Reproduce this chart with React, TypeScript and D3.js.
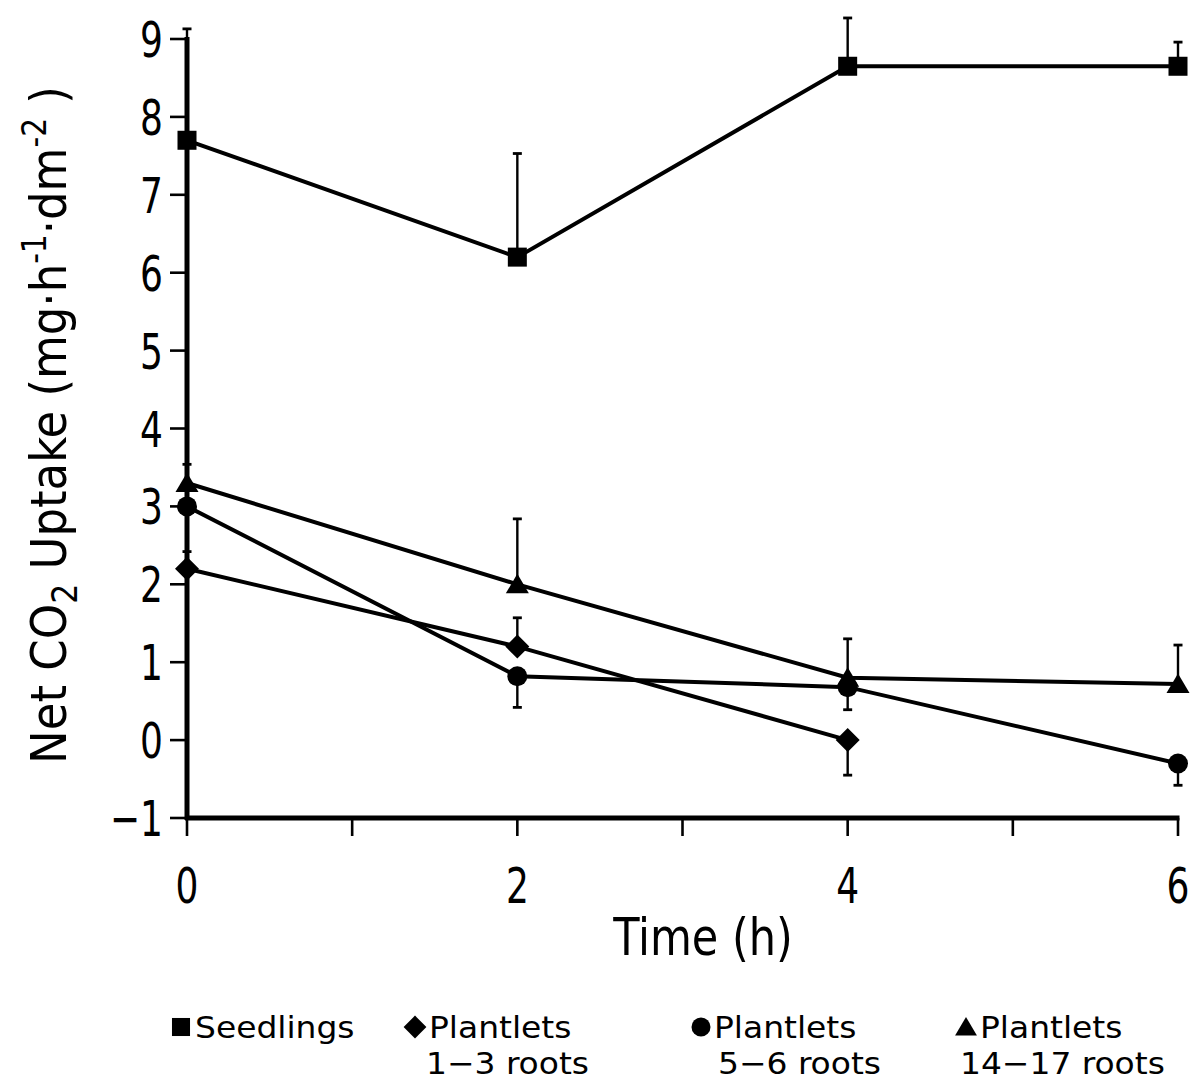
import React from "react";
import * as d3 from "d3";

const times = [0, 2, 4, 6];
const seedlings = [7.7, 6.2, 8.65, 8.65];
const seedlingsErrEnd = [9.13, 7.53, 9.27, 8.96];
const plant13 = [2.2, 1.2, 0.0];
const plant13ErrEnd = [2.42, 1.57, -0.45];
const plant56 = [3.0, 0.82, 0.68, -0.3];
const plant56ErrEnd = [3.0, 0.42, 0.39, -0.58];
const plant1417 = [3.3, 2.0, 0.8, 0.72];
const plant1417ErrEnd = [3.54, 2.84, 1.3, 1.22];
const yTicks = [-1, 0, 1, 2, 3, 4, 5, 6, 7, 8, 9];
const xTicks = [0, 1, 2, 3, 4, 5, 6];
const xTickLabels = [0, 2, 4, 6];

const FONT = "'DejaVu Sans Condensed', 'Liberation Sans Narrow', 'DejaVu Sans', sans-serif";

type Shape = "square" | "diamond" | "circle" | "triangle";

function Marker({ shape, x, y, s = 1 }: { shape: Shape; x: number; y: number; s?: number }) {
  if (shape === "square") {
    const h = 9.5 * s;
    return <rect x={x - h} y={y - h} width={2 * h} height={2 * h} fill="#000" />;
  }
  if (shape === "diamond") {
    const h = 12 * s;
    return <path d={`M${x},${y - h}L${x + h},${y}L${x},${y + h}L${x - h},${y}Z`} fill="#000" />;
  }
  if (shape === "circle") {
    return <circle cx={x} cy={y} r={10 * s} fill="#000" />;
  }
  const h = 11.5 * s;
  return <path d={`M${x},${y - 10.5 * s}L${x + h},${y + 9 * s}L${x - h},${y + 9 * s}Z`} fill="#000" />;
}

function NText({
  x,
  y,
  sx = 1,
  anchor = "start",
  size,
  children,
}: {
  x: number;
  y: number;
  sx?: number;
  anchor?: string;
  size: number;
  children: React.ReactNode;
}) {
  return (
    <text transform={`translate(${x},${y}) scale(${sx},1)`} textAnchor={anchor} fontSize={size}>
      {children}
    </text>
  );
}

export default function App() {
  const x = d3.scaleLinear().domain([0, 6]).range([187, 1178]);
  const y = d3.scaleLinear().domain([-1, 9]).range([818, 39]);
  const line = d3
    .line<[number, number]>()
    .x((d) => x(d[0]))
    .y((d) => y(d[1]));

  const series: { shape: Shape; vals: number[]; err: number[] }[] = [
    { shape: "square", vals: seedlings, err: seedlingsErrEnd },
    { shape: "diamond", vals: plant13, err: plant13ErrEnd },
    { shape: "circle", vals: plant56, err: plant56ErrEnd },
    { shape: "triangle", vals: plant1417, err: plant1417ErrEnd },
  ];

  const legend: { shape: Shape; l1: string; l2: string; mx: number; tx: number; t2x: number }[] = [
    { shape: "square", l1: "Seedlings", l2: "", mx: 181, tx: 195, t2x: 0 },
    { shape: "diamond", l1: "Plantlets", l2: "1−3 roots", mx: 415, tx: 429, t2x: 426 },
    { shape: "circle", l1: "Plantlets", l2: "5−6 roots", mx: 701, tx: 714, t2x: 718 },
    { shape: "triangle", l1: "Plantlets", l2: "14−17 roots", mx: 966, tx: 980, t2x: 960 },
  ];

  return (
    <svg
      width={1197}
      height={1082}
      style={{ position: "absolute", left: 0, top: 0, background: "#fff" }}
      fontFamily={FONT}
    >
      <rect width={1197} height={1082} fill="#fff" />
      {/* lines */}
      {series.map((s, i) => (
        <path
          key={"l" + i}
          d={line(s.vals.map((v, j) => [times[j], v] as [number, number])) || ""}
          fill="none"
          stroke="#000"
          strokeWidth={4}
        />
      ))}
      {/* error bars */}
      {series.map((s, i) =>
        s.vals.map((v, j) =>
          Math.abs(s.err[j] - v) < 0.01 ? null : (
            <g key={"e" + i + "-" + j}>
              <line x1={x(times[j])} x2={x(times[j])} y1={y(v)} y2={y(s.err[j])} stroke="#000" strokeWidth={2.4} />
              <line
                x1={x(times[j]) - 4.5}
                x2={x(times[j]) + 4.5}
                y1={y(s.err[j])}
                y2={y(s.err[j])}
                stroke="#000"
                strokeWidth={2.8}
              />
            </g>
          )
        )
      )}
      {/* axes */}
      <line x1={187} x2={187} y1={y(9) - 2} y2={y(-1) + 2} stroke="#000" strokeWidth={5} />
      <line x1={185} x2={x(6) + 1.5} y1={y(-1)} y2={y(-1)} stroke="#000" strokeWidth={5} />
      {yTicks.map((t) => (
        <g key={"yt" + t}>
          <line x1={170} x2={187} y1={y(t)} y2={y(t)} stroke="#000" strokeWidth={2.6} />
          <NText x={163} y={y(t) + 18} sx={0.8} anchor="end" size={50}>
            {t < 0 ? "−" + Math.abs(t) : t}
          </NText>
        </g>
      ))}
      {xTicks.map((t) => (
        <line key={"xt" + t} x1={x(t)} x2={x(t)} y1={y(-1)} y2={y(-1) + 18} stroke="#000" strokeWidth={2.6} />
      ))}
      {xTickLabels.map((t) => (
        <NText key={"xl" + t} x={x(t)} y={903} sx={0.8} anchor="middle" size={50}>
          {t}
        </NText>
      ))}
      <NText x={703} y={955} sx={0.92} anchor="middle" size={52}>
        Time (h)
      </NText>
      <text transform="translate(66,425) rotate(-90)" textAnchor="middle" fontSize={50}>
        Net CO<tspan fontSize={35} dy={11}>2</tspan>
        <tspan dy={-11}> Uptake (mg·h</tspan>
        <tspan fontSize={33} dy={-20}>-1</tspan>
        <tspan dy={20}>·dm</tspan>
        <tspan fontSize={33} dy={-20}>-2</tspan>
        <tspan dy={20}> )</tspan>
      </text>
      {/* markers */}
      {series.map((s, i) =>
        s.vals.map((v, j) => <Marker key={"m" + i + "-" + j} shape={s.shape} x={x(times[j])} y={y(v)} />)
      )}
      {/* legend */}
      {legend.map((l, i) => (
        <g key={"lg" + i}>
          <Marker shape={l.shape} x={l.mx} y={1027} s={0.95} />
          <NText x={l.tx} y={1038} sx={1.2} size={30.5}>
            {l.l1}
          </NText>
          {l.l2 && (
            <NText x={l.t2x} y={1074} sx={1.2} size={30.5}>
              {l.l2}
            </NText>
          )}
        </g>
      ))}
    </svg>
  );
}
